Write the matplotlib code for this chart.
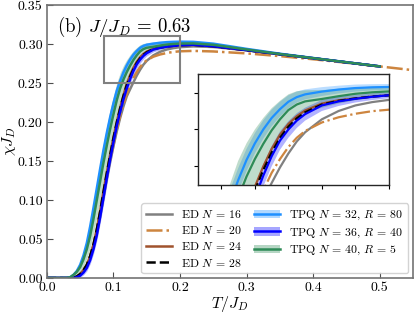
import matplotlib
matplotlib.use("Agg")
import matplotlib.pyplot as plt
from matplotlib.patches import Patch, Rectangle
from matplotlib.lines import Line2D
import numpy as np

plt.rcParams['font.family'] = 'serif'
plt.rcParams['font.serif'] = ['cmr10', 'DejaVu Serif']
plt.rcParams['mathtext.fontset'] = 'cm'
plt.rcParams['axes.unicode_minus'] = False
plt.rcParams['axes.formatter.use_mathtext'] = True

# ---------------- data ----------------
T = [0.0, 0.03, 0.035, 0.04, 0.045, 0.05, 0.055, 0.06, 0.065, 0.07, 0.075, 0.08,
     0.085, 0.09, 0.095, 0.10, 0.105, 0.11, 0.115, 0.12, 0.125, 0.13, 0.135, 0.14,
     0.145, 0.15, 0.16, 0.17, 0.18, 0.19, 0.20, 0.22, 0.25, 0.30, 0.35, 0.40, 0.45, 0.50]
T_n20 = T + [0.55]

chi_ed16 = [0, 0, 0, 0.000, 0.001, 0.004, 0.008, 0.015, 0.025, 0.039, 0.057, 0.079, 0.103,
            0.127, 0.149, 0.169, 0.188, 0.205, 0.220, 0.233, 0.242, 0.251, 0.2595, 0.2670,
            0.2735, 0.2785, 0.2855, 0.2900, 0.2930, 0.2948, 0.2960, 0.2970, 0.2962, 0.2920,
            0.2868, 0.2817, 0.2765, 0.2713]
chi_ed20 = [0, 0, 0, 0.000, 0.002, 0.005, 0.010, 0.017, 0.028, 0.042, 0.061, 0.083, 0.107,
            0.130, 0.152, 0.172, 0.191, 0.208, 0.223, 0.236, 0.247, 0.2565, 0.2640, 0.2705,
            0.2755, 0.2792, 0.2838, 0.2866, 0.2885, 0.2899, 0.2907, 0.2912, 0.2905, 0.2880,
            0.2845, 0.2805, 0.2760, 0.2713, 0.2665]
chi_ed24 = [0, 0, 0, 0.000, 0.002, 0.005, 0.010, 0.017, 0.028, 0.043, 0.063, 0.086, 0.111,
            0.135, 0.158, 0.180, 0.200, 0.218, 0.234, 0.249, 0.260, 0.2695, 0.2772, 0.2830,
            0.2872, 0.2903, 0.2940, 0.2958, 0.2968, 0.2978, 0.2985, 0.2990, 0.2972, 0.2922,
            0.2870, 0.2818, 0.2765, 0.2713]
chi_ed28 = [0, 0, 0, 0.000, 0.002, 0.005, 0.010, 0.017, 0.028, 0.043, 0.062, 0.085, 0.110,
            0.134, 0.157, 0.179, 0.199, 0.217, 0.233, 0.247, 0.258, 0.2675, 0.2755, 0.2815,
            0.2860, 0.2893, 0.2935, 0.2955, 0.2968, 0.2978, 0.2985, 0.2990, 0.2972, 0.2922,
            0.2870, 0.2818, 0.2765, 0.2713]

chi_tpq32 = [0, 0, 0.001, 0.004, 0.009, 0.017, 0.029, 0.045, 0.066, 0.090, 0.115, 0.140,
             0.164, 0.186, 0.206, 0.224, 0.240, 0.2525, 0.2635, 0.2725, 0.2800, 0.2862,
             0.2910, 0.2950, 0.2975, 0.2990, 0.3005, 0.3016, 0.3024, 0.3028, 0.3030, 0.3028,
             0.3005, 0.2938, 0.2876, 0.2821, 0.2767, 0.2714]
err_tpq32 = [0, 0, 0.0005, 0.001, 0.002, 0.003, 0.004, 0.005, 0.006, 0.007, 0.008, 0.008,
             0.008, 0.008, 0.008, 0.0075, 0.007, 0.0065, 0.006, 0.0055, 0.005, 0.0045, 0.004,
             0.0035, 0.003, 0.0027, 0.0024, 0.0021, 0.0019, 0.0017, 0.0016, 0.0014, 0.0012,
             0.0010, 0.0008, 0.0007, 0.0006, 0.0005]
chi_tpq36 = [0, 0, 0, 0.000, 0.001, 0.003, 0.007, 0.013, 0.023, 0.037, 0.055, 0.078, 0.103,
             0.128, 0.152, 0.174, 0.195, 0.213, 0.229, 0.243, 0.255, 0.2655, 0.2740, 0.2800,
             0.2848, 0.2883, 0.2930, 0.2952, 0.2966, 0.2977, 0.2985, 0.2990, 0.2972, 0.2922,
             0.2870, 0.2818, 0.2765, 0.2713]
err_tpq36 = [0, 0, 0, 0.000, 0.001, 0.002, 0.003, 0.004, 0.005, 0.006, 0.007, 0.008, 0.009,
             0.009, 0.009, 0.009, 0.008, 0.008, 0.007, 0.0065, 0.006, 0.0055, 0.005, 0.0045,
             0.004, 0.0035, 0.003, 0.0025, 0.002, 0.0018, 0.0016, 0.0014, 0.0012, 0.0010,
             0.0008, 0.0007, 0.0006, 0.0005]
chi_tpq40 = [0, 0.000, 0.001, 0.004, 0.008, 0.014, 0.024, 0.037, 0.054, 0.076, 0.100, 0.124,
             0.148, 0.170, 0.191, 0.210, 0.228, 0.243, 0.2545, 0.2640, 0.2722, 0.2795, 0.2855,
             0.2905, 0.2935, 0.2952, 0.2965, 0.2980, 0.2993, 0.3001, 0.3006, 0.3008, 0.2990,
             0.2930, 0.2872, 0.2819, 0.2766, 0.2713]
err_tpq40 = [0, 0, 0.001, 0.002, 0.004, 0.006, 0.009, 0.012, 0.016, 0.019, 0.022, 0.024,
             0.025, 0.025, 0.025, 0.024, 0.022, 0.020, 0.018, 0.016, 0.014, 0.012, 0.010,
             0.0085, 0.0072, 0.006, 0.0048, 0.004, 0.0035, 0.003, 0.0028, 0.0025, 0.002,
             0.0015, 0.0012, 0.001, 0.0008, 0.0007]

ed_labels = [r'ED $N\,=\,16$', r'ED $N\,=\,20$', r'ED $N\,=\,24$', r'ED $N\,=\,28$']
tpq_labels = [r'TPQ $N\,=\,32$, $R\,=\,80$', r'TPQ $N\,=\,36$, $R\,=\,40$',
              r'TPQ $N\,=\,40$, $R\,=\,5$']

# ---------------- styles ----------------
ed_series = [(T, chi_ed16, 'gray', '-'),
             (T_n20, chi_ed20, 'peru', '-.'),
             (T, chi_ed24, 'sienna', '-'),
             (T, chi_ed28, 'black', '--')]
tpq_series = [(T, chi_tpq32, err_tpq32, 'dodgerblue'),
              (T, chi_tpq36, err_tpq36, 'blue'),
              (T, chi_tpq40, err_tpq40, 'seagreen')]

fig = plt.figure(figsize=(4.15, 3.15), dpi=100)
ax = fig.add_axes([0.113, 0.1175, 0.882, 0.8665])


def draw(a, lw):
    for x, y, c, ls in ed_series:
        a.plot(x, y, color=c, ls=ls, lw=lw)
    for x, y, e, c in tpq_series:
        y = np.asarray(y)
        e = np.asarray(e)
        a.fill_between(x, y - e, y + e, color=c, alpha=0.3, lw=0)
        a.plot(x, y, color=c, lw=lw)


draw(ax, 1.8)
ax.set_xlim(0, 0.55)
ax.set_ylim(0, 0.35)
ax.set_xticks([0.0, 0.1, 0.2, 0.3, 0.4, 0.5])
ax.set_yticks([0.0, 0.05, 0.10, 0.15, 0.20, 0.25, 0.30, 0.35])
ax.xaxis.set_major_formatter(matplotlib.ticker.FormatStrFormatter('%.1f'))
ax.yaxis.set_major_formatter(matplotlib.ticker.FormatStrFormatter('%.2f'))
ax.tick_params(direction='in', labelsize=10, length=4, color='0.3', pad=3)
for s in ax.spines.values():
    s.set_color('0.45')
    s.set_linewidth(1.2)
ax.set_xlabel(r'$T/J_D$', fontsize=11.5, labelpad=0)
ax.set_ylabel(r'$\chi J_D$', fontsize=11.5, labelpad=0)
ax.text(0.028, 0.965, r'(b) $J/J_D\,=\,0.63$', transform=ax.transAxes, fontsize=13.5,
        va='top', ha='left')

ax.add_patch(Rectangle((0.086, 0.25), 0.114, 0.06, fill=False, edgecolor='gray', lw=1.5,
                       zorder=5))

# legend
handles = [Line2D([], [], color=c, ls=ls, lw=1.8) for _, _, c, ls in ed_series]
handles += [(Patch(facecolor=c, alpha=0.35, lw=0), Line2D([], [], color=c, lw=1.8))
            for _, _, _, c in tpq_series]
leg = ax.legend(handles, ed_labels + tpq_labels, ncol=2, loc='lower right', fontsize=8.5,
                handlelength=2.2, columnspacing=1.0, borderaxespad=0.4, framealpha=0.85,
                labelspacing=0.35)
leg.set_zorder(10)

# inset
axi = fig.add_axes([0.477, 0.413, 0.46, 0.352])
draw(axi, 1.6)
axi.set_xlim(0.086, 0.2)
axi.set_ylim(0.25, 0.31)
axi.set_xticks([0.10, 0.12, 0.14, 0.16, 0.18, 0.20])
axi.set_yticks([0.26, 0.28, 0.30])
axi.set_xticklabels([])
axi.set_yticklabels([])
axi.tick_params(length=3)
for s in axi.spines.values():
    s.set_color('0.15')
    s.set_linewidth(1.0)

fig.savefig('out.png', dpi=100)
